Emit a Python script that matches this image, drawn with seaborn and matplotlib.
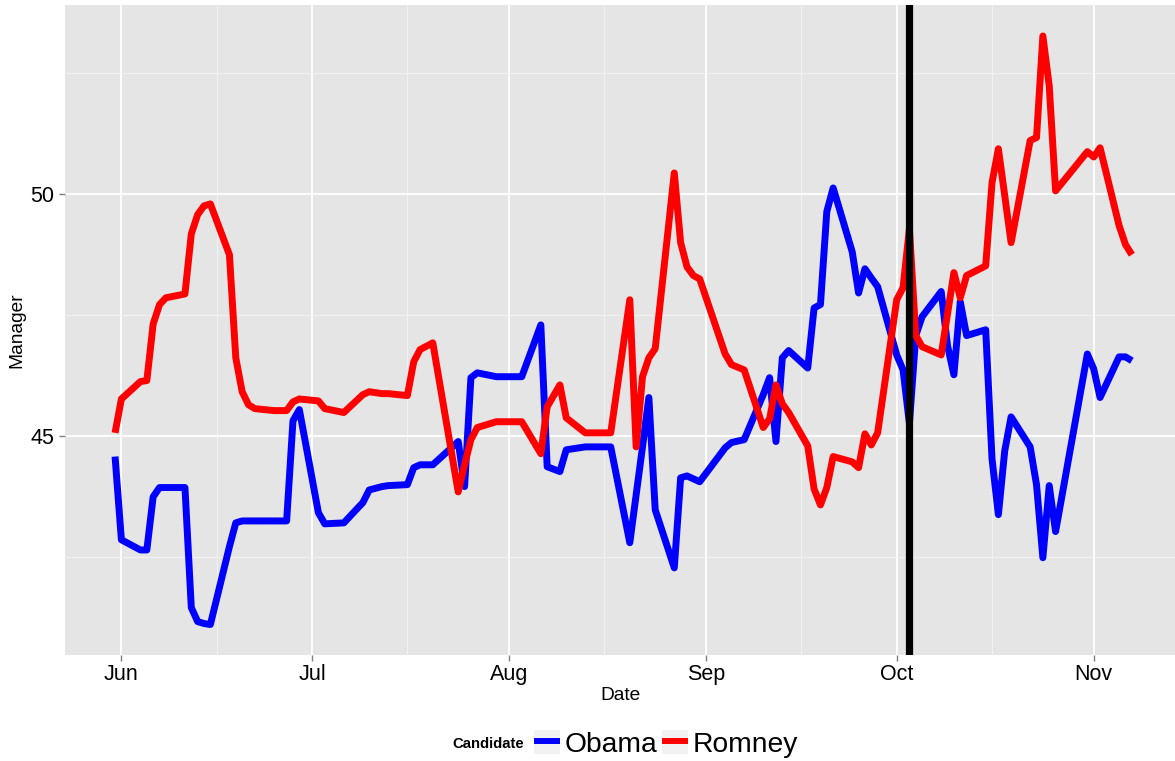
import numpy as np
import pandas as pd
import seaborn as sns
import matplotlib.pyplot as plt
import matplotlib.dates as mdates
from matplotlib.ticker import MultipleLocator
from matplotlib.lines import Line2D
from matplotlib.patches import Patch

# poll dates (2012)
dates = ["05-31", "06-01", "06-04", "06-05", "06-06", "06-07", "06-08", "06-11", "06-12", "06-13",
         "06-14", "06-15", "06-18", "06-19", "06-20", "06-21", "06-22", "06-25", "06-27", "06-28",
         "06-29", "07-02", "07-03", "07-06", "07-09", "07-10", "07-12", "07-13", "07-16", "07-17",
         "07-18", "07-20", "07-24", "07-25", "07-26", "07-27", "07-30", "08-03", "08-06", "08-07",
         "08-09", "08-10", "08-13", "08-17", "08-20", "08-21", "08-22", "08-23", "08-24", "08-27",
         "08-28", "08-29", "08-30", "08-31", "09-04", "09-05", "09-07", "09-10", "09-11", "09-12",
         "09-13", "09-14", "09-17", "09-18", "09-19", "09-20", "09-21", "09-24", "09-25", "09-26",
         "09-27", "09-28", "10-01", "10-02", "10-03", "10-04", "10-05", "10-08", "10-09", "10-10",
         "10-11", "10-12", "10-15", "10-16", "10-17", "10-18", "10-19", "10-22", "10-23", "10-24",
         "10-25", "10-26", "10-31", "11-01", "11-02", "11-05", "11-06", "11-07"]

obama = [44.57, 42.85, 42.64, 42.64, 43.74, 43.93, 43.93, 43.93, 41.45, 41.16,
         41.12, 41.10, 42.71, 43.20, 43.24, 43.24, 43.24, 43.24, 43.24, 45.31,
         45.54, 43.41, 43.18, 43.20, 43.62, 43.88, 43.95, 43.97, 43.99, 44.34,
         44.40, 44.40, 44.88, 43.95, 46.20, 46.30, 46.22, 46.22, 47.29, 44.36,
         44.26, 44.71, 44.77, 44.77, 42.79, 43.78, 44.77, 45.79, 43.47, 42.27,
         44.13, 44.17, 44.11, 44.05, 44.75, 44.86, 44.92, 45.85, 46.20, 44.88,
         46.61, 46.76, 46.40, 47.64, 47.71, 49.63, 50.12, 48.80, 47.95, 48.45,
         48.26, 48.08, 46.67, 46.36, 45.25, 47.07, 47.46, 47.98, 46.86, 46.26,
         47.77, 47.07, 47.19, 44.52, 43.37, 44.69, 45.39, 44.77, 43.99, 42.48,
         43.97, 43.02, 46.69, 46.38, 45.79, 46.63, 46.63, 46.55]

romney = [45.06, 45.76, 46.12, 46.14, 47.31, 47.71, 47.85, 47.93, 49.17, 49.57,
          49.75, 49.79, 48.74, 46.61, 45.91, 45.64, 45.56, 45.52, 45.52, 45.70,
          45.76, 45.72, 45.56, 45.48, 45.85, 45.91, 45.87, 45.87, 45.83, 46.53,
          46.78, 46.92, 43.84, 44.40, 44.92, 45.17, 45.29, 45.29, 44.63, 45.60,
          46.05, 45.37, 45.06, 45.06, 47.81, 44.77, 46.22, 46.61, 46.80, 50.43,
          48.99, 48.49, 48.31, 48.24, 46.69, 46.47, 46.36, 45.17, 45.35, 46.05,
          45.66, 45.48, 44.79, 43.90, 43.57, 43.93, 44.57, 44.46, 44.34, 45.04,
          44.81, 45.06, 47.81, 48.06, 49.28, 47.07, 46.84, 46.67, 47.52, 48.37,
          47.85, 48.31, 48.51, 50.23, 50.93, 49.96, 48.99, 51.10, 51.16, 53.26,
          52.23, 50.06, 50.87, 50.76, 50.95, 49.34, 48.95, 48.74]

candidates = ["Obama", "Romney"]
colors = {"Obama": "blue", "Romney": "red"}
debate_date = "2012-10-03"

dt = pd.to_datetime(["2012-" + d for d in dates])
df = pd.DataFrame({
    "Date": list(dt) * 2,
    "Manager": obama + romney,
    "Candidate": ["Obama"] * len(dates) + ["Romney"] * len(dates),
})

sns.set_theme(style="darkgrid")
plt.rcParams["font.family"] = ["Liberation Sans", "DejaVu Sans"]
plt.rcParams["text.color"] = "black"
plt.rcParams["axes.labelcolor"] = "black"

fig = plt.figure(figsize=(11.75, 7.61), dpi=100)
ax = fig.add_axes([65 / 1175, 106 / 761, 1110 / 1175, 650 / 761])
ax.set_facecolor("#E5E5E5")

sns.lineplot(data=df, x="Date", y="Manager", hue="Candidate", hue_order=candidates,
             palette=colors, linewidth=5, legend=False, ax=ax, solid_capstyle="butt")

# first debate
ax.axvline(pd.Timestamp(debate_date), color="black", linewidth=5.2, zorder=5)

ax.set_xlim(pd.Timestamp("2012-05-23 03:00"), pd.Timestamp("2012-11-13 19:00"))
ax.set_ylim(40.47, 53.9)

ax.xaxis.set_major_locator(mdates.MonthLocator())
ax.xaxis.set_major_formatter(mdates.DateFormatter("%b"))
ax.xaxis.set_minor_locator(mdates.MonthLocator(bymonthday=16))
ax.yaxis.set_major_locator(MultipleLocator(5))
ax.yaxis.set_minor_locator(MultipleLocator(2.5))

ax.grid(which="major", color="white", linewidth=1.3)
ax.grid(which="minor", color="#F2F2F2", linewidth=0.7)
for s in ax.spines.values():
    s.set_visible(False)

ax.tick_params(which="major", left=True, bottom=True, length=4.3, width=1, color="#7F7F7F",
               labelsize=15.5, labelcolor="black", pad=3.5)
ax.tick_params(axis="x", which="major", pad=2)
ax.tick_params(which="minor", left=False, bottom=False, length=0)

ax.set_xlabel("Date", fontsize=13.8, color="black")
ax.set_ylabel("Manager", fontsize=13.8, color="black")
ax.xaxis.set_label_coords(0.5, -0.049)
ax.yaxis.set_label_coords(-0.036, 0.5)

# legend along the bottom
fig.text(452 / 1175, 1 - 744 / 761, "Candidate", fontsize=10.7, fontweight="bold",
         ha="left", va="center", color="black")
handles = [(Patch(facecolor="#F2F2F2", edgecolor="none"),
            Line2D([], [], color=colors[c], linewidth=4.3, solid_capstyle="butt"))
           for c in candidates]
leg = fig.legend(handles, candidates, loc="center left", bbox_to_anchor=(534 / 1175, 1 - 744 / 761),
                 ncol=2, frameon=False, fontsize=20.3, handlelength=0.92, handleheight=0.92,
                 handletextpad=0.18, columnspacing=0.14, borderpad=0, borderaxespad=0)
for t in leg.get_texts():
    t.set_color("black")

fig.savefig("out.png", dpi=100)
